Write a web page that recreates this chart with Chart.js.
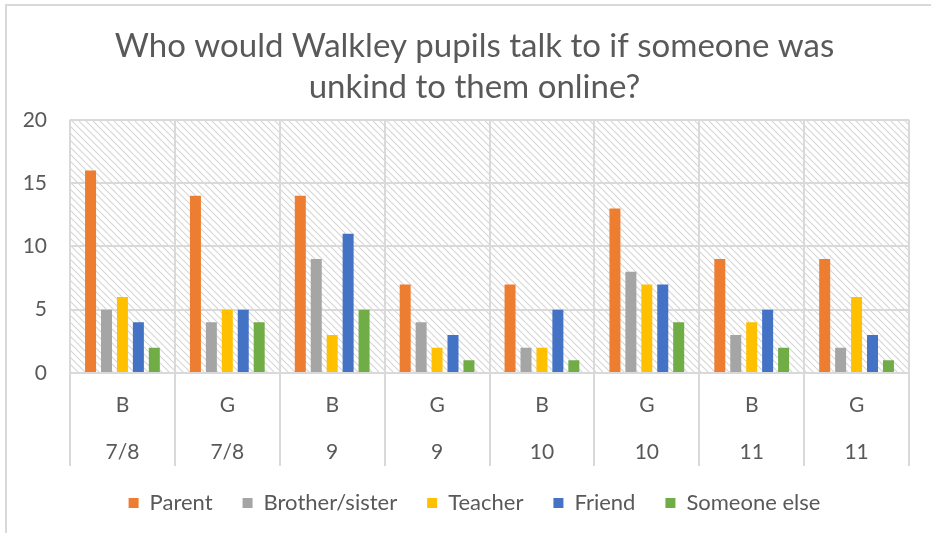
<!DOCTYPE html>
<html>
<head>
<meta charset="utf-8">
<script src="https://cdn.jsdelivr.net/npm/chart.js@4/dist/chart.umd.min.js"></script>
<style>
  html, body { margin: 0; padding: 0; background: #fff; overflow: hidden; }
  #wrap { position: relative; width: 931px; height: 533px; }
  #frame { position: absolute; left: 5px; top: 4px; right: -10px; bottom: -10px;
           border-top: 2px solid #d9d9d9; border-left: 2px solid #d9d9d9; }
  canvas { position: absolute; left: 0; top: 0; }
</style>
</head>
<body>
<div id="wrap">
  <div id="frame"></div>
  <canvas id="chart" width="931" height="533"></canvas>
</div>
<script>
// data
const groups = ['B', 'G', 'B', 'G', 'B', 'G', 'B', 'G']
const years = ['7/8', '7/8', '9', '9', '10', '10', '11', '11']
const parent = [16, 14, 14, 7, 7, 13, 9, 9]
const brotherSister = [5, 4, 9, 4, 2, 8, 3, 2]
const teacher = [6, 5, 3, 2, 2, 7, 4, 6]
const friend = [4, 5, 11, 3, 5, 7, 5, 3]
const someoneElse = [2, 4, 5, 1, 1, 4, 2, 1]
const yTicks = [0, 5, 10, 15, 20]

const FONT = 'Lato, "Open Sans", sans-serif'
const GREY = '#595959'
const GRID = '#d9d9d9'

// two-level category labels: group on top, year below
const labels = groups.map((g, i) => [g, '', years[i]])

function hatch(){
    const c = document.createElement('canvas')
    c.width = 7; c.height = 7
    const x = c.getContext('2d')
    x.fillStyle = '#fff'
    x.fillRect(0, 0, 7, 7)
    x.strokeStyle = '#d6d6d6'
    x.lineWidth = 1.1
    x.beginPath()
    x.moveTo(-1, -1); x.lineTo(8, 8)
    x.moveTo(-8, -1); x.lineTo(1, 8)
    x.moveTo(6, -1); x.lineTo(15, 8)
    x.stroke()
    return x.createPattern(c, 'repeat')
}

const hatchBg = {
    id: 'hatchBg',
    beforeDraw(chart){
        const {ctx, chartArea: a} = chart
        ctx.save()
        ctx.fillStyle = hatch()
        ctx.fillRect(a.left, a.top, a.right - a.left, a.bottom - a.top)
        ctx.restore()
    }
}

function series(label, data, color){
    return {
        label: label,
        data: data,
        backgroundColor: color,
        borderWidth: 0,
        categoryPercentage: 0.76,
        barPercentage: 0.69,
    }
}

new Chart(document.getElementById('chart'), {
    type: 'bar',
    data: {
        labels: labels,
        datasets: [
            series('Parent', parent, '#ED7D31'),
            series('Brother/sister', brotherSister, '#A5A5A5'),
            series('Teacher', teacher, '#FFC000'),
            series('Friend', friend, '#4472C4'),
            series('Someone else', someoneElse, '#70AD47'),
        ]
    },
    options: {
        responsive: false,
        animation: false,
        // left padding nudges title/legend centre to the right like the original
        layout: { padding: { left: 18, right: 0, top: 0, bottom: 9 } },
        plugins: {
            title: {
                display: true,
                text: ['Who would Walkley pupils talk to if someone was', 'unkind to them online?'],
                color: GREY,
                font: { family: FONT, size: 33, weight: 'normal', lineHeight: 1.24 },
                padding: { top: 26, bottom: 12 },
            },
            legend: {
                position: 'bottom',
                labels: {
                    color: GREY,
                    font: { family: FONT, size: 22 },
                    boxWidth: 10,
                    boxHeight: 10,
                    padding: 30,
                },
            },
            tooltip: { enabled: false },
        },
        scales: {
            x: {
                grid: { offset: true, color: GRID, lineWidth: 2, tickLength: 93, drawTicks: true },
                border: { display: false },
                ticks: {
                    color: GREY,
                    font: { family: FONT, size: 21, lineHeight: 1.12 },
                    padding: -73,
                    maxRotation: 0,
                    autoSkip: false,
                },
                afterFit(s){ s.height = 89 },
            },
            y: {
                min: 0,
                max: 20,
                afterBuildTicks(s){ s.ticks = yTicks.map(v => ({ value: v })) },
                grid: { color: GRID, lineWidth: 2, drawTicks: false },
                border: { display: false },
                ticks: {
                    color: GREY,
                    font: { family: FONT, size: 21 },
                    padding: 23,
                },
                afterFit(s){ s.width = 52 },
            },
            // empty right-hand axis, only keeps the right margin
            yRight: {
                position: 'right',
                grid: { display: false },
                border: { display: false },
                ticks: { display: false },
                afterFit(s){ s.width = 22 },
            }
        }
    },
    plugins: [hatchBg]
})
</script>
</body>
</html>
